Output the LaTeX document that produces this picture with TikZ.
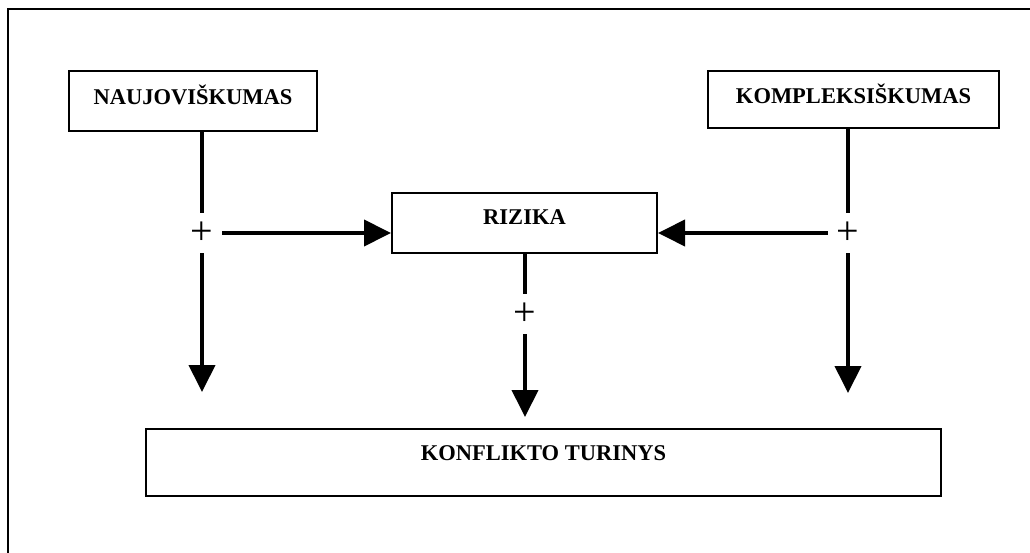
\documentclass[tikz,border=0pt]{standalone}
\usepackage{fontspec}
\setmainfont{Liberation Serif}
\usetikzlibrary{arrows.meta}
\tikzset{
  box/.style={draw=black, line width=2pt, fill=white, inner sep=0pt},
  lbl/.style={font=\fontsize{22.5}{24}\selectfont\bfseries, inner sep=0pt},
  plusnode/.style={fill=white, inner sep=0pt, minimum size=40pt, font=\fontsize{40}{42}\selectfont},
  conn/.style={line width=4pt, -{Triangle[length=27pt,width=26pt]}},
}
\begin{document}
\begin{tikzpicture}[x=1pt,y=-1pt]
\useasboundingbox (0,0) rectangle (1030,553);
\clip (0,0) rectangle (1030,553);
\draw[line width=2.5pt] (8,9) rectangle (1050,575);
% boxes
\node[box, minimum width=248pt, minimum height=60pt] (nauj) at (193,101) {};
\node[lbl] at (193,95) {NAUJOVIŠKUMAS};
\node[box, minimum width=291pt, minimum height=57pt] (komp) at (853.5,99.5) {};
\node[lbl] at (853.5,94) {KOMPLEKSIŠKUMAS};
\node[box, minimum width=265pt, minimum height=60pt] (riz) at (524.5,223) {};
\node[lbl] at (524.5,217) {RIZIKA};
\node[box, minimum width=795pt, minimum height=67pt] (konf) at (543.5,462.5) {};
\node[lbl] at (543.5,453) {KONFLIKTO TURINYS};
% coordinates of free ends
\coordinate (nend) at (202,392);
\coordinate (kend) at (848,393);
\coordinate (rend) at (525,417);
% vertical connectors
\draw[conn] (nauj.south -| nend) -- (nend);
\draw[conn] (komp.south -| kend) -- (kend);
\draw[conn] (riz.south -| rend) -- (rend);
% plus signs
\node[plusnode] (p1) at (202,233) {+};
\node[plusnode] (p2) at (848,233) {+};
\node[plusnode] (p3) at (525,314) {+};
% horizontal connectors
\draw[conn] (p1.east) -- (riz.west |- p1);
\draw[conn] (p2.west) -- (riz.east |- p2);
\end{tikzpicture}
\end{document}
